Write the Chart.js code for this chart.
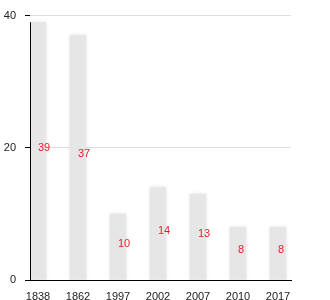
<!DOCTYPE html>
<html>
<head>
<meta charset="utf-8">
<script src="https://cdn.jsdelivr.net/npm/chart.js@4"></script>
<style>
html,body{margin:0;padding:0;background:#fff;}
#wrap{width:330px;height:300px;position:relative;}
</style>
</head>
<body>
<div id="wrap"><canvas id="c" width="330" height="300"></canvas></div>
<script>
const years = ["1838", "1862", "1997", "2002", "2007", "2010", "2017"];
const values = [39, 37, 10, 14, 13, 8, 8];
const yTicks = [0, 20, 40];

const labelPlugin = {
  id: 'valueLabels',
  beforeDatasetsDraw(chart) {
    const ctx = chart.ctx;
    ctx.save();
    ctx.shadowColor = 'rgba(0,0,0,0.10)';
    ctx.shadowBlur = 4;
  },
  afterDatasetsDraw(chart) {
    const ctx = chart.ctx;
    ctx.restore();
    // y axis line from 0 up to the largest value
    const ys = chart.scales.y;
    const top = ys.getPixelForValue(Math.max(...values));
    const bottom = ys.getPixelForValue(0);
    const xl = Math.round(chart.chartArea.left) + 0.5;
    ctx.save();
    ctx.strokeStyle = '#000';
    ctx.lineWidth = 1;
    ctx.beginPath();
    ctx.moveTo(xl, top);
    ctx.lineTo(xl, bottom);
    ctx.stroke();
    ctx.restore();

    const meta = chart.getDatasetMeta(0);
    ctx.save();
    ctx.font = '11px "Liberation Sans", Arial, sans-serif';
    ctx.fillStyle = '#ee1c2e';
    ctx.textAlign = 'left';
    ctx.textBaseline = 'middle';
    meta.data.forEach((bar, i) => {
      const cy = (bar.y + bar.base) / 2 - 3;
      ctx.fillText(String(values[i]), bar.x, cy);
    });
    ctx.restore();
  }
};

new Chart(document.getElementById('c'), {
  type: 'bar',
  data: {
    datasets: [{
      data: values.map((v, i) => ({x: i, y: v})),
      backgroundColor: '#e6e6e6',
      borderWidth: 0,
      barThickness: 16
    }]
  },
  options: {
    responsive: false,
    animation: false,
    devicePixelRatio: 1,
    layout: {padding: {top: 14, right: 39, left: 0, bottom: 0}},
    plugins: {legend: {display: false}, tooltip: {enabled: false}},
    scales: {
      x: {
        type: 'linear',
        offset: false,
        min: -0.2,
        max: 6.325,
        afterBuildTicks(scale) {
          scale.ticks = years.map((y, i) => ({value: i}));
        },
        afterFit(scale) { scale.height = 20; },
        grid: {display: false, offset: false},
        border: {display: true, color: '#000', width: 1},
        ticks: {
          autoSkip: false,
          maxRotation: 0,
          padding: 2,
          color: '#222',
          font: {size: 11, family: '"Liberation Sans", Arial, sans-serif'},
          callback: (v) => years[v]
        }
      },
      y: {
        min: 0,
        max: 40,
        afterBuildTicks(scale) {
          scale.ticks = yTicks.map(v => ({value: v}));
        },
        afterFit(scale) { scale.width = 30; },
        grid: {color: '#dedede', tickColor: '#000', tickLength: 5, lineWidth: 1},
        border: {display: false},
        ticks: {
          padding: 9,
          color: '#222',
          font: {size: 11, family: '"Liberation Sans", Arial, sans-serif'}
        }
      }
    }
  },
  plugins: [labelPlugin]
});
</script>
</body>
</html>
